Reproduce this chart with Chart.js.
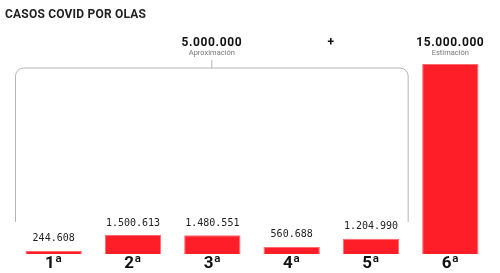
<!DOCTYPE html>
<html>
<head>
<meta charset="utf-8">
<script src="https://cdn.jsdelivr.net/npm/chart.js@4/dist/chart.umd.min.js"></script>
<style>
  html, body { margin: 0; padding: 0; background: #fff; }
  #wrap { position: relative; width: 500px; height: 273px; }
</style>
</head>
<body>
<div id="wrap"><canvas id="myChart" width="500" height="273"></canvas></div>
<script>
const olas = ["1ª", "2ª", "3ª", "4ª", "5ª", "6ª"];
const casos = [244608, 1500613, 1480551, 560688, 1204990, 15000000];
const totalAprox = 5000000;   // suma de las cinco primeras olas (aprox.)
const estimacion = 15000000;  // sexta ola (estimación)

function fmt(n) {
  return n.toString().replace(/\B(?=(\d{3})+(?!\d))/g, ".");
}

// etiquetas, llave y titulares
const extras = {
  id: "extras",
  afterDatasetsDraw(chart) {
    const ctx = chart.ctx;
    const meta = chart.getDatasetMeta(0);
    ctx.save();

    // titulo
    ctx.fillStyle = "#222";
    ctx.font = "bold 12px Roboto";
    ctx.letterSpacing = "0.2px";
    ctx.textAlign = "left";
    ctx.textBaseline = "middle";
    ctx.fillText("CASOS COVID POR OLAS", 5, 15);

    // valores encima de las barras (menos la ultima)
    ctx.letterSpacing = "0px";
    ctx.font = "10px 'DejaVu Sans Mono'";
    ctx.textAlign = "center";
    ctx.fillStyle = "#222";
    for (let i = 0; i < casos.length - 1; i++) {
      const b = meta.data[i];
      ctx.fillText(fmt(casos[i]), b.x, b.y - 12);
    }

    // llave sobre las olas 1 a 5
    const b0 = meta.data[0], b4 = meta.data[4];
    const left = b0.x - b0.width / 2 - 10;
    const right = b4.x + b4.width / 2 + 9;
    const top = 68, bottom = 222, r = 8;
    const mid = (left + right) / 2;
    ctx.strokeStyle = "#b5b5b5";
    ctx.lineWidth = 1;
    ctx.beginPath();
    ctx.moveTo(left, bottom);
    ctx.lineTo(left, top + r);
    ctx.arcTo(left, top, left + r, top, r);
    ctx.lineTo(right - r, top);
    ctx.arcTo(right, top, right, top + r, r);
    ctx.lineTo(right, bottom);
    ctx.moveTo(mid, top);
    ctx.lineTo(mid, top - 8);
    ctx.stroke();

    // titulares de arriba
    const x6 = meta.data[5].x;
    ctx.fillStyle = "#111";
    ctx.font = "bold 12px Roboto";
    ctx.letterSpacing = "0.6px";
    ctx.fillText(fmt(totalAprox), mid, 42.5);
    ctx.fillText(fmt(estimacion), x6, 42.5);
    ctx.fillText("+", (mid + x6) / 2, 42.5);
    ctx.letterSpacing = "0px";
    ctx.fillStyle = "#777";
    ctx.font = "7.5px Roboto";
    ctx.fillText("Aproximación", mid, 53);
    ctx.fillText("Estimación", x6, 53);

    ctx.restore();
  }
};

const ctx = document.getElementById("myChart").getContext("2d");
new Chart(ctx, {
  type: "bar",
  data: {
    labels: olas,
    datasets: [{
      data: casos,
      backgroundColor: "#fe1e27",
      borderColor: "#ff6a6e",
      borderWidth: 1,
      categoryPercentage: 1,
      barPercentage: 0.71
    }]
  },
  options: {
    responsive: false,
    animation: false,
    layout: { padding: { top: 64, left: 14, right: 10, bottom: 0 } },
    plugins: { legend: { display: false }, tooltip: { enabled: false } },
    scales: {
      x: {
        grid: { display: false, drawTicks: false },
        border: { display: false },
        ticks: { color: "#111", font: { family: "Roboto", weight: "bold", size: 17, lineHeight: 1 }, padding: 1 }
      },
      y: { display: false, min: 0, max: 15000000 }
    }
  },
  plugins: [extras]
});
</script>
</body>
</html>
